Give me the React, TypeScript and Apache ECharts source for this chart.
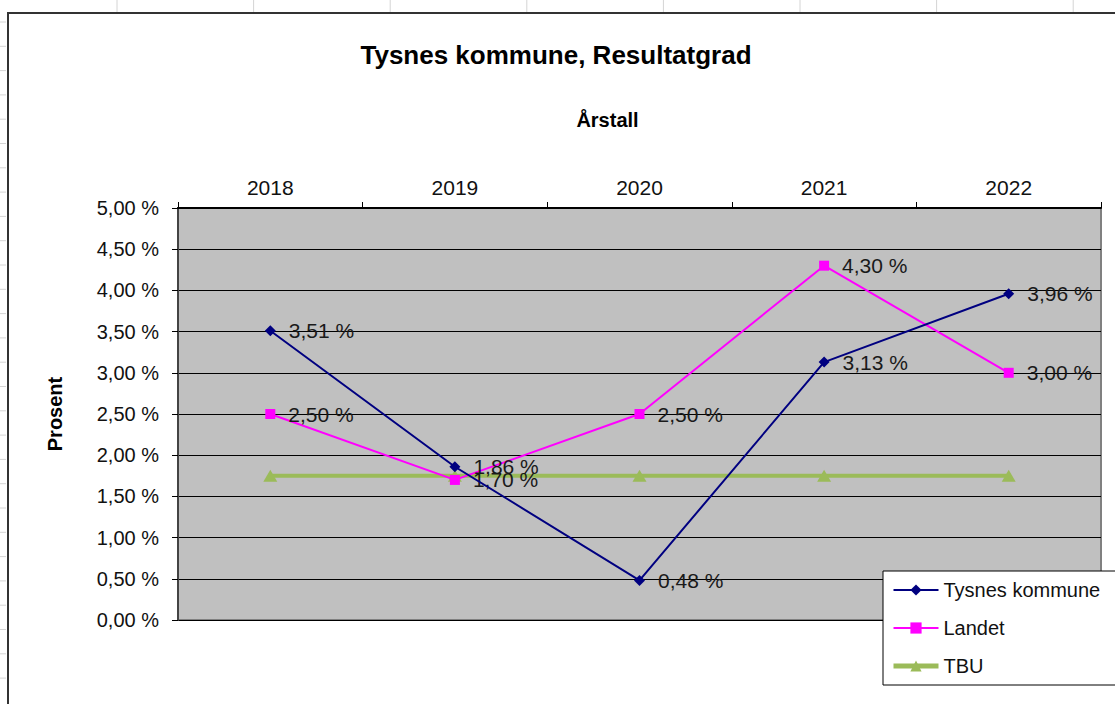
import React, { useEffect, useRef } from "react";
import * as echarts from "echarts";

const years = ["2018", "2019", "2020", "2021", "2022"];
const tysnes = [3.51, 1.86, 0.48, 3.13, 3.96];
const landet = [2.5, 1.7, 2.5, 4.3, 3.0];
const tbu = [1.75, 1.75, 1.75, 1.75, 1.75];
const yMin = 0;
const yMax = 5;
const yStep = 0.5;

const FONT = '"Liberation Sans", Arial, sans-serif';
const fmt = (v: number) => v.toFixed(2).replace(".", ",") + " %";

export default function App() {
  const ref = useRef<HTMLDivElement>(null);
  useEffect(() => {
    if (!ref.current) return;
    const chart = echarts.init(ref.current, undefined, { renderer: "svg" });

    const frame: any[] = [
      { type: "line", shape: { x1: 8, y1: 13, x2: 8, y2: 704 }, style: { stroke: "#333", lineWidth: 2 } },
      { type: "line", shape: { x1: 7, y1: 13, x2: 1115, y2: 13 }, style: { stroke: "#333", lineWidth: 2 } },
    ];
    for (let i = 0; i < 8; i++) {
      const x = 117 + i * 136.6;
      frame.push({ type: "line", shape: { x1: x, y1: 0, x2: x, y2: 12 }, style: { stroke: "#d4d4d4", lineWidth: 1 } });
    }
    for (let i = 0; i < 28; i++) {
      const y = 22 + i * 24.3;
      frame.push({ type: "line", shape: { x1: 0, y1: y, x2: 6, y2: y }, style: { stroke: "#d4d4d4", lineWidth: 1 } });
    }

    const labelCfg = {
      show: true,
      position: "right",
      distance: 13,
      color: "#1a1a1a",
      fontSize: 21,
      fontFamily: FONT,
      formatter: (p: any) => fmt(p.value),
    };

    chart.setOption({
      animation: false,
      backgroundColor: "#fff",
      textStyle: { fontFamily: FONT },
      title: {
        text: "Tysnes kommune, Resultatgrad",
        left: 551,
        top: 37,
        textAlign: "center",
        textStyle: { fontSize: 26, fontWeight: "bold", color: "#000", fontFamily: FONT },
      },
      graphic: frame,
      grid: {
        left: 178,
        right: 14,
        top: 208,
        bottom: 84,
        show: true,
        backgroundColor: "#C0C0C0",
        borderColor: "#808080",
        borderWidth: 2,
      },
      legend: {
        orient: "vertical",
        left: 883,
        top: 571,
        padding: [9, 40, 9, 8],
        itemGap: 18,
        itemWidth: 45,
        itemHeight: 14,
        backgroundColor: "#fff",
        borderColor: "#000",
        borderWidth: 1,
        textStyle: { fontSize: 20, color: "#111", fontFamily: FONT },
        data: [
          { name: "Tysnes kommune" },
          { name: "Landet" },
          { name: "TBU", lineStyle: { width: 5 } },
        ],
      },
      xAxis: {
        type: "category",
        position: "top",
        data: years,
        boundaryGap: true,
        name: "Årstall",
        nameLocation: "middle",
        nameGap: 78,
        nameTextStyle: { fontSize: 20, fontWeight: "bold", color: "#000", padding: [0, 64, 0, 0] },
        axisLine: { show: true, onZero: false, lineStyle: { color: "#000", width: 2 } },
        axisTick: { show: true, inside: false, length: 6, lineStyle: { color: "#000" } },
        minorTick: { show: false },
        axisLabel: { fontSize: 21, color: "#111", margin: 10 },
        splitLine: { show: false },
        splitArea: { show: false },
      },
      yAxis: {
        type: "value",
        min: yMin,
        max: yMax,
        interval: yStep,
        name: "Prosent",
        nameLocation: "middle",
        nameGap: 113,
        nameRotate: 90,
        nameTextStyle: { fontSize: 20, fontWeight: "bold", color: "#000" },
        axisLine: { show: true, lineStyle: { color: "#444", width: 2 } },
        axisTick: { show: true, length: 6, lineStyle: { color: "#000" } },
        axisLabel: { fontSize: 20, color: "#111", margin: 19, formatter: (v: number) => fmt(v) },
        splitLine: { show: true, lineStyle: { color: "#000", width: 1 } },
        splitArea: { show: false },
      },
      series: [
        {
          name: "Tysnes kommune",
          type: "line",
          data: tysnes,
          symbol: "diamond",
          symbolSize: 11,
          color: "#000080",
          lineStyle: { color: "#000080", width: 2 },
          itemStyle: { color: "#000080" },
          label: labelCfg,
          z: 4,
        },
        {
          name: "Landet",
          type: "line",
          data: landet,
          symbol: "rect",
          symbolSize: 10,
          color: "#FF00FF",
          lineStyle: { color: "#FF00FF", width: 2 },
          itemStyle: { color: "#FF00FF" },
          label: labelCfg,
          z: 3,
        },
        {
          name: "TBU",
          type: "line",
          data: tbu,
          symbol: "triangle",
          symbolSize: [14, 12],
          color: "#9BBB59",
          lineStyle: { color: "#9BBB59", width: 4 },
          itemStyle: { color: "#9BBB59" },
          label: { show: false },
          z: 2,
        },
      ],
    });
    return () => chart.dispose();
  }, []);
  return (
    <div
      ref={ref}
      style={{ position: "absolute", left: 0, top: 0, width: 1115, height: 704 }}
    />
  );
}
